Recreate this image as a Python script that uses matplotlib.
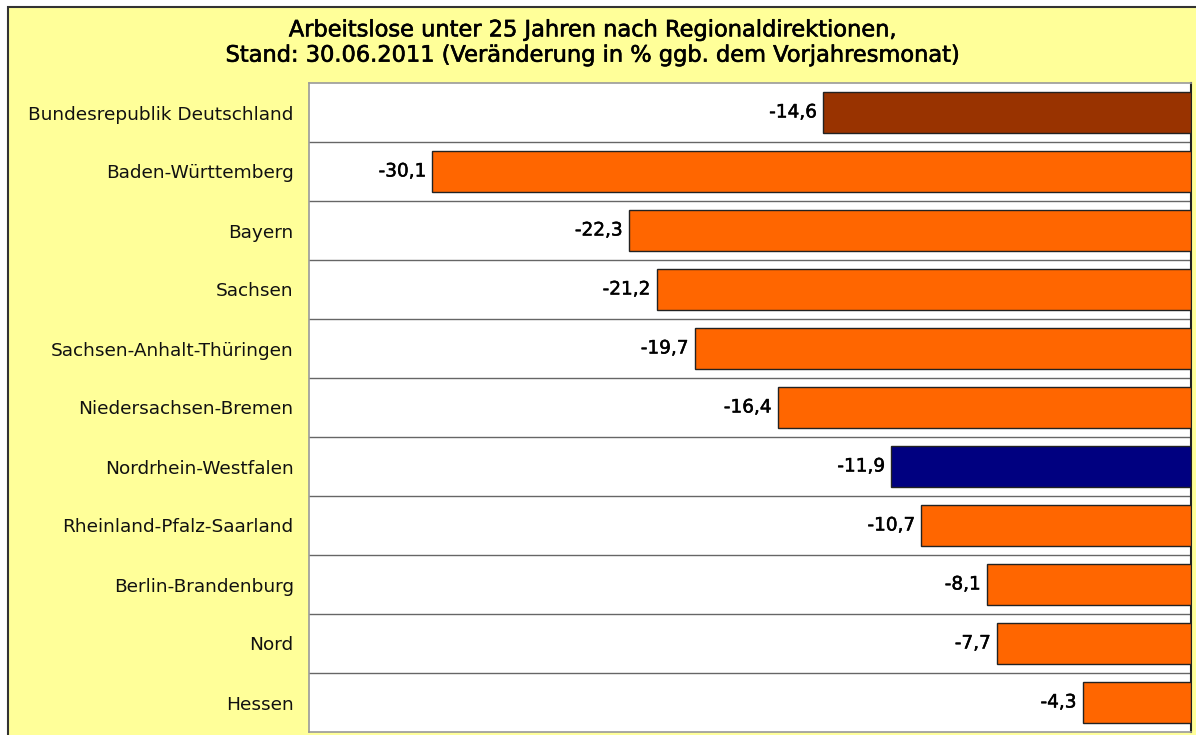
import matplotlib
matplotlib.use("Agg")
import matplotlib.pyplot as plt
from matplotlib.patches import Rectangle
import matplotlib.patheffects as pe

categories = ["Bundesrepublik Deutschland", "Baden-Württemberg", "Bayern", "Sachsen",
              "Sachsen-Anhalt-Thüringen", "Niedersachsen-Bremen", "Nordrhein-Westfalen",
              "Rheinland-Pfalz-Saarland", "Berlin-Brandenburg", "Nord", "Hessen"]
values = [-14.6, -30.1, -22.3, -21.2, -19.7, -16.4, -11.9, -10.7, -8.1, -7.7, -4.3]
colors = ["#993300", "#FF6600", "#FF6600", "#FF6600", "#FF6600", "#FF6600",
          "#000080", "#FF6600", "#FF6600", "#FF6600", "#FF6600"]
title = "Arbeitslose unter 25 Jahren nach Regionaldirektionen,\nStand: 30.06.2011 (Veränderung in % ggb. dem Vorjahresmonat)"

W, H = 1196, 735
fig = plt.figure(figsize=(W / 100, H / 100), dpi=100)
fig.patch.set_facecolor("white")

# yellow frame
fig.patches.append(Rectangle((8 / W, -0.02), 1.0, 1 - 7 / H + 0.02, transform=fig.transFigure,
                             facecolor="#FFFF99", edgecolor="#333333", linewidth=1.5, zorder=-10))

ax = fig.add_axes([309 / W, 1 - 732 / H, (1191 - 309) / W, (732 - 83) / H])
ax.set_zorder(5)
ax.set_facecolor("white")

n = len(categories)
ypos = list(range(n))
ax.barh(ypos, values, height=0.68, color=colors, edgecolor="#222222", linewidth=1.0, zorder=3)
ax.set_xlim(-35, 0)
ax.set_ylim(n - 0.5, -0.5)

thick = [pe.withStroke(linewidth=0.35, foreground="black")]
for y, v in zip(ypos, values):
    ax.text(v - 0.25, y, f"{v:.1f}".replace(".", ","), ha="right", va="center",
            fontsize=13.3, color="black", zorder=4, path_effects=thick)

# separators between rows
for k in range(1, n):
    ax.axhline(k - 0.5, color="#666666", linewidth=1.0, zorder=1)

ax.set_yticks(ypos)
ax.set_yticklabels(categories, fontsize=13.3, color="#111111")
ax.tick_params(axis="y", length=0, pad=11)
ax.set_xticks([])
for s in ["left", "top", "bottom"]:
    ax.spines[s].set_color("#999999")
    ax.spines[s].set_linewidth(1.2)
ax.spines["right"].set_color("#222222")
ax.spines["right"].set_linewidth(1.5)

fig.text(592 / W, 1 - 43 / H, title, ha="center", va="center", fontsize=16.2,
         linespacing=1.33, path_effects=[pe.withStroke(linewidth=0.45, foreground="black")])

fig.savefig("out.png", dpi=100, facecolor=fig.get_facecolor())
